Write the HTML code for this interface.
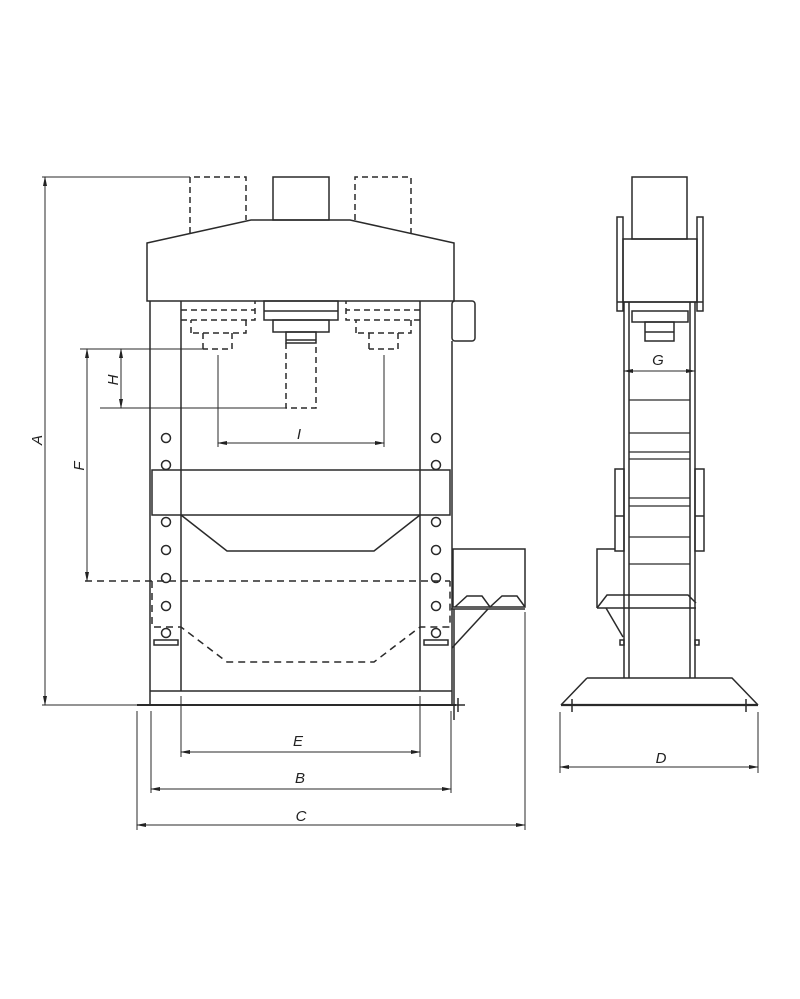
<!DOCTYPE html>
<html><head><meta charset="utf-8"><style>
html,body{margin:0;padding:0;background:#fff;}
svg{display:block;}
text{font-family:"Liberation Sans",sans-serif;font-style:italic;font-size:15px;fill:#222;}
</style></head><body>
<svg width="800" height="999" viewBox="0 0 800 999" xmlns="http://www.w3.org/2000/svg">
<defs>
<marker id="ar" markerWidth="10" markerHeight="6" refX="9" refY="3" orient="auto-start-reverse" markerUnits="userSpaceOnUse"><path d="M0,1 L10,3 L0,5 z" fill="#222"/></marker>
</defs>
<g fill="none" stroke="#2a2a2a" stroke-width="1.5">
<rect x="273" y="177" width="56" height="43"/>
<g stroke-dasharray="6,4">
<path d="M190,233 V177 H246 V220"/>
<path d="M355,220 V177 H411 V233"/>
</g>
<path d="M147,243 L251,220 L350,220 L454,243 V301 H147 Z"/>
<rect x="452" y="301" width="23" height="40" rx="3"/>
<line x1="150" y1="301" x2="150" y2="704"/>
<line x1="181" y1="301" x2="181" y2="691"/>
<line x1="420" y1="301" x2="420" y2="691"/>
<line x1="452" y1="341" x2="452" y2="704"/>
<rect x="264" y="301" width="74" height="19"/>
<line x1="264" y1="311" x2="338" y2="311"/>
<rect x="273" y="320" width="56" height="12"/>
<rect x="286" y="332" width="30" height="11"/>
<line x1="286" y1="340" x2="316" y2="340"/>
<g stroke-dasharray="6,4">
<path d="M181,310 H255 M181,320 H255 V301"/>
<path d="M191,333 V320 M246,320 V333 H191"/>
<path d="M203,349 V333 M232,333 V349 H203"/>
<path d="M420,310 H346 M420,320 H346 V301"/>
<path d="M356,333 V320 M411,320 V333 H356"/>
<path d="M369,349 V333 M398,333 V349 H369"/>
<path d="M286,343 V408 H316 V343"/>
</g>
<rect x="152" y="470" width="298" height="45"/>
<path d="M181,515 L227,551 L374,551 L420,515"/>
<g stroke-dasharray="7,5">
<path d="M85,581 H450"/>
<path d="M152,581 V627 H181 L227,662 L374,662 L420,627 H450 V581"/>
</g>
<g>
<circle cx="166" cy="438" r="4.5"/><circle cx="166" cy="465" r="4.5"/>
<circle cx="166" cy="522" r="4.5"/><circle cx="166" cy="550" r="4.5"/>
<circle cx="166" cy="578" r="4.5"/><circle cx="166" cy="606" r="4.5"/>
<circle cx="166" cy="633" r="4.5"/>
<circle cx="436" cy="438" r="4.5"/><circle cx="436" cy="465" r="4.5"/>
<circle cx="436" cy="522" r="4.5"/><circle cx="436" cy="550" r="4.5"/>
<circle cx="436" cy="578" r="4.5"/><circle cx="436" cy="606" r="4.5"/>
<circle cx="436" cy="633" r="4.5"/>
</g>
<rect x="154" y="640" width="24" height="5"/>
<rect x="424" y="640" width="24" height="5"/>
<line x1="150" y1="691" x2="452" y2="691"/>
<line x1="137" y1="705" x2="456" y2="705" stroke-width="2"/>
<path d="M453,705 H465 M458,698 V712"/>
<rect x="453" y="549" width="72" height="58"/>
<path d="M455,607 L467,596 L482,596 L490,607 L502,596 L517,596 L525,607"/>
<line x1="451" y1="609" x2="525" y2="609"/>
<line x1="488" y1="609" x2="452" y2="648"/>
<line x1="454" y1="609" x2="454" y2="720"/>
<line x1="42" y1="177" x2="190" y2="177" stroke-width="1"/>
<line x1="42" y1="705" x2="137" y2="705" stroke-width="1"/>
<line x1="45" y1="177" x2="45" y2="705" stroke-width="1" marker-start="url(#ar)" marker-end="url(#ar)"/>
<line x1="80" y1="349" x2="203" y2="349" stroke-width="1"/>
<line x1="100" y1="408" x2="286" y2="408" stroke-width="1"/>
<line x1="87" y1="349" x2="87" y2="581" stroke-width="1" marker-start="url(#ar)" marker-end="url(#ar)"/>
<line x1="121" y1="349" x2="121" y2="408" stroke-width="1" marker-start="url(#ar)" marker-end="url(#ar)"/>
<line x1="218" y1="355" x2="218" y2="447" stroke-width="1"/>
<line x1="384" y1="355" x2="384" y2="447" stroke-width="1"/>
<line x1="218" y1="443" x2="384" y2="443" stroke-width="1" marker-start="url(#ar)" marker-end="url(#ar)"/>
<line x1="181" y1="696" x2="181" y2="757" stroke-width="1"/>
<line x1="420" y1="696" x2="420" y2="757" stroke-width="1"/>
<line x1="181" y1="752" x2="420" y2="752" stroke-width="1" marker-start="url(#ar)" marker-end="url(#ar)"/>
<line x1="151" y1="711" x2="151" y2="793" stroke-width="1"/>
<line x1="451" y1="711" x2="451" y2="793" stroke-width="1"/>
<line x1="151" y1="789" x2="451" y2="789" stroke-width="1" marker-start="url(#ar)" marker-end="url(#ar)"/>
<line x1="137" y1="711" x2="137" y2="830" stroke-width="1"/>
<line x1="525" y1="612" x2="525" y2="830" stroke-width="1"/>
<line x1="137" y1="825" x2="525" y2="825" stroke-width="1" marker-start="url(#ar)" marker-end="url(#ar)"/>

<rect x="632" y="177" width="55" height="62"/>
<rect x="623" y="239" width="74" height="63"/>
<rect x="617" y="217" width="6" height="94"/>
<rect x="697" y="217" width="6" height="94"/>
<line x1="617" y1="302" x2="703" y2="302"/>
<line x1="624" y1="302" x2="624" y2="678"/>
<line x1="629" y1="302" x2="629" y2="678"/>
<line x1="690" y1="302" x2="690" y2="678"/>
<line x1="695" y1="302" x2="695" y2="678"/>
<rect x="632" y="311" width="56" height="11"/>
<rect x="645" y="322" width="29" height="19"/>
<line x1="645" y1="332" x2="674" y2="332"/>
<line x1="624" y1="371" x2="695" y2="371" stroke-width="1" marker-start="url(#ar)" marker-end="url(#ar)"/>
<g stroke-width="1.3">
<line x1="629" y1="400" x2="690" y2="400"/>
<line x1="629" y1="433" x2="690" y2="433"/>
<line x1="629" y1="452" x2="690" y2="452"/>
<line x1="629" y1="459" x2="690" y2="459"/>
<line x1="629" y1="498" x2="690" y2="498"/>
<line x1="629" y1="506" x2="690" y2="506"/>
<line x1="629" y1="537" x2="690" y2="537"/>
<line x1="629" y1="564" x2="690" y2="564"/>
</g>
<rect x="615" y="469" width="9" height="82"/>
<line x1="615" y1="516" x2="624" y2="516"/>
<rect x="695" y="469" width="9" height="82"/>
<line x1="695" y1="516" x2="704" y2="516"/>
<path d="M615,549 H597 V608"/>
<path d="M597,608 L607,595 L688,595 L696,603"/>
<line x1="597" y1="608" x2="696" y2="608"/>
<line x1="606" y1="608" x2="623" y2="637"/>
<rect x="620" y="640" width="4" height="5"/>
<rect x="695" y="640" width="4" height="5"/>
<path d="M587,678 H732 L758,705 M587,678 L561,705"/>
<line x1="561" y1="705" x2="758" y2="705" stroke-width="2.2"/>
<line x1="572" y1="699" x2="572" y2="712"/>
<line x1="746" y1="699" x2="746" y2="712"/>
<line x1="560" y1="712" x2="560" y2="773" stroke-width="1"/>
<line x1="758" y1="712" x2="758" y2="773" stroke-width="1"/>
<line x1="560" y1="767" x2="758" y2="767" stroke-width="1" marker-start="url(#ar)" marker-end="url(#ar)"/>
</g>
<text x="42" y="440" transform="rotate(-90 42 440)" text-anchor="middle">A</text>
<text x="84" y="466" transform="rotate(-90 84 466)" text-anchor="middle">F</text>
<text x="118" y="380" transform="rotate(-90 118 380)" text-anchor="middle">H</text>
<text x="299" y="439" text-anchor="middle">I</text>
<text x="298" y="746" text-anchor="middle">E</text>
<text x="300" y="783" text-anchor="middle">B</text>
<text x="301" y="821" text-anchor="middle">C</text>
<text x="661" y="763" text-anchor="middle">D</text>
<text x="658" y="365" text-anchor="middle">G</text>
</svg>
</body></html>
